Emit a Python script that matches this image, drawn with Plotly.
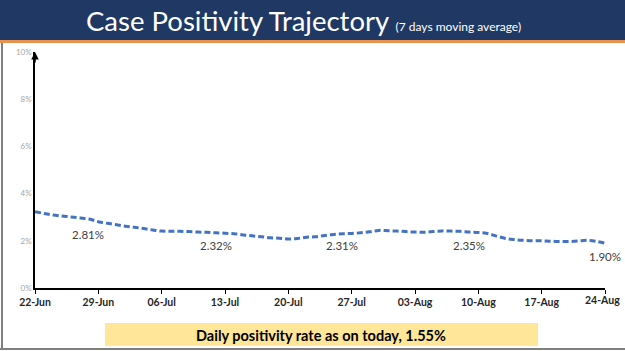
import pandas as pd
import plotly.graph_objects as go

# ---- data ----
start_date = "2020-06-22"
end_date = "2020-08-24"
positivity = [3.23, 3.16, 3.09, 3.05, 3.01, 2.97, 2.92, 2.81, 2.74, 2.68,
              2.62, 2.57, 2.52, 2.46, 2.41, 2.40, 2.40, 2.39, 2.37, 2.36,
              2.34, 2.32, 2.30, 2.25, 2.21, 2.17, 2.13, 2.11, 2.08, 2.10,
              2.15, 2.17, 2.22, 2.27, 2.30, 2.31, 2.34, 2.38, 2.44, 2.43,
              2.41, 2.39, 2.37, 2.36, 2.39, 2.42, 2.41, 2.40, 2.37, 2.35,
              2.31, 2.20, 2.10, 2.05, 2.02, 2.00, 2.00, 1.98, 1.97, 1.97,
              1.99, 2.02, 1.98, 1.90]
label_days = [7, 21, 35, 49, 63]
label_texts = ["2.81%", "2.32%", "2.31%", "2.35%", "1.90%"]
ytick_vals = [0, 2, 4, 6, 8, 10]
ytick_text = ["0%", "2%", "4%", "6%", "8%", "10%"]
title_text = "Case Positivity Trajectory"
subtitle_text = "(7 days moving average)"
footer_text = "Daily positivity rate as on today, 1.55%"

dates = pd.date_range(start_date, end_date, freq="D")
week_dates = list(dates[::7])
xtick_text = [d.strftime("%d-%b") for d in week_dates]

W, H = 625, 351
ML, MR, MT, MB = 35, 20, 52, 63
PW, PH = W - ML - MR, H - MT - MB


def px(x):
    return (x - ML) / PW


def py(y):
    return (H - MB - y) / PH


fig = go.Figure()
fig.add_trace(go.Scatter(
    x=dates, y=positivity, mode="lines",
    line=dict(color="#4472C4", width=3, dash="6px,3px", shape="spline"),
    hoverinfo="skip", showlegend=False))

annotations = []
lab_shift = [(-10, -13), (-9, -12), (-10, -12), (-9, -13), (0, -13)]
for d, t, (dx, dy) in zip(label_days, label_texts, lab_shift):
    annotations.append(dict(x=dates[d], y=positivity[d], text=t, showarrow=False,
                            xshift=dx, yshift=dy,
                            font=dict(family="Lato", size=11.5, color="#404040")))

# last x tick label drawn as annotation, kept inside the page
annotations.append(dict(x=week_dates[-1], y=0, yref="y", text=f"<b>{xtick_text[-1]}</b>",
                        showarrow=False, xanchor="right", yanchor="middle",
                        xshift=17, yshift=-12,
                        font=dict(family="Lato", size=10.5, color="#262626")))

# arrow on top of y axis
annotations.append(dict(x=dates[0], y=10, ax=0, ay=12, showarrow=True,
                        arrowhead=2, arrowsize=1, arrowwidth=1.5, arrowcolor="#000000",
                        text=""))

# title
annotations.append(dict(xref="paper", yref="paper", x=px(84), y=py(21), xanchor="left",
                        yanchor="middle", showarrow=False,
                        text=f"{title_text} <span style='font-size:12px'>{subtitle_text}</span>",
                        font=dict(family="Lato", size=27.5, color="#FFFFFF")))
# footer
annotations.append(dict(xref="paper", yref="paper", x=px(321), y=py(335), xanchor="center",
                        yanchor="middle", showarrow=False,
                        text=f"<b>{footer_text}</b>",
                        font=dict(family="Lato", size=14.5, color="#000000")))

shapes = [
    dict(type="rect", xref="paper", yref="paper", x0=px(0), x1=px(W), y0=py(40), y1=py(0),
         fillcolor="#203864", line=dict(width=0), layer="below"),
    dict(type="rect", xref="paper", yref="paper", x0=px(0), x1=px(W), y0=py(43), y1=py(40),
         fillcolor="#E9924F", line=dict(width=0), layer="below"),
    dict(type="line", xref="paper", yref="paper", x0=px(2), x1=px(2), y0=py(349), y1=py(43),
         line=dict(color="#7F7F7F", width=2)),
    dict(type="line", xref="paper", yref="paper", x0=px(0), x1=px(W), y0=py(349), y1=py(349),
         line=dict(color="#7F7F7F", width=2)),
    dict(type="rect", xref="paper", yref="paper", x0=px(105), x1=px(538), y0=py(346), y1=py(323),
         fillcolor="#FFE699", line=dict(width=0), layer="below"),
]

fig.update_layout(
    width=W, height=H,
    margin=dict(l=ML, r=MR, t=MT, b=MB, pad=0),
    paper_bgcolor="#FFFFFF", plot_bgcolor="#FFFFFF",
    annotations=annotations, shapes=shapes,
    xaxis=dict(type="date", range=[dates[0], dates[-1]], tickvals=week_dates,
               ticktext=xtick_text[:-1] + [""],
               ticks="outside", ticklen=4, tickcolor="#000000",
               showline=True, linecolor="#000000", linewidth=1.5, showgrid=False, zeroline=False,
               tickfont=dict(family="Lato", size=10.5, color="#262626", weight="bold")),
    yaxis=dict(range=[0, 10], tickvals=ytick_vals, ticktext=ytick_text, ticks="",
               showline=True, linecolor="#000000", linewidth=1.5, showgrid=False, zeroline=False,
               tickfont=dict(family="Lato", size=8, color="#A6A6A6")),
)

fig.write_html("out.html")
